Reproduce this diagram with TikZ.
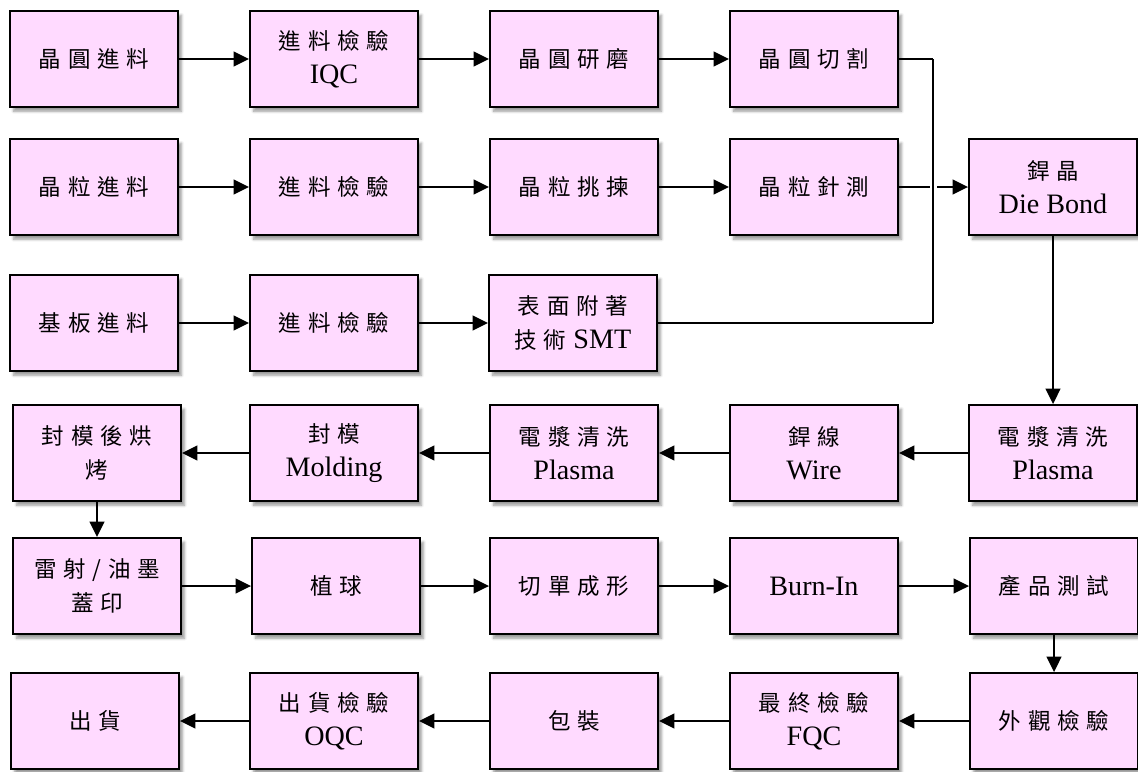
\documentclass[tikz,border=0pt]{standalone}
\usepackage{fontspec}
\setmainfont{Liberation Serif}
\newfontfamily\cjk[LetterSpace=30]{Noto Sans CJK TC}
\usepackage{xcolor}
\usepackage{tikz}
\usetikzlibrary{arrows.meta}
\usetikzlibrary{shadows.blur}

\definecolor{boxpink}{RGB}{255,218,255}
\newcommand{\zh}[1]{{\cjk\fontsize{16}{24}\selectfont #1}}

\begin{document}
\begin{tikzpicture}[
    x=0.025cm, y=-0.025cm,
    every node/.style={rectangle, draw, line width=1.3pt, fill=boxpink,
      minimum width=4.2cm, minimum height=2.4cm, inner sep=0pt, align=center,
      font=\fontsize{20}{24}\selectfont,
      blur shadow={shadow xshift=2.5pt, shadow yshift=-3pt, shadow blur steps=6}},
    flow/.style={line width=1.5pt, -{Triangle[length=11pt, width=10.5pt]}},
    feed/.style={line width=0.9pt},
  ]

  \useasboundingbox (0,0) rectangle (1138,771);

  % row 1
  \node (wafer)   at (94,  59)  {\zh{晶圓進料}};
  \node (iqc)     at (334, 59)  {\zh{進料檢驗}\\IQC};
  \node (grind)   at (574, 59)  {\zh{晶圓研磨}};
  \node (saw)     at (814, 59)  {\zh{晶圓切割}};

  % row 2
  \node (die)     at (94,  187) {\zh{晶粒進料}};
  \node (dieinsp) at (334, 187) {\zh{進料檢驗}};
  \node (sort)    at (574, 187) {\zh{晶粒挑揀}};
  \node (probe)   at (814, 187) {\zh{晶粒針測}};
  \node (bond)    at (1053,187) {\zh{銲晶}\\Die Bond};

  % row 3
  \node (sub)     at (94,  323) {\zh{基板進料}};
  \node (subinsp) at (334, 323) {\zh{進料檢驗}};
  \node (smt)     at (573, 323) {\zh{表面附著}\\\zh{技術} SMT};

  % row 4
  \node (plasmaA) at (1053,453) {\zh{電漿清洗}\\Plasma};
  \node (wire)    at (814, 453) {\zh{銲線}\\Wire};
  \node (plasmaB) at (574, 453) {\zh{電漿清洗}\\Plasma};
  \node (mold)    at (334, 453) {\zh{封模}\\Molding};
  \node (cure)    at (97,  453) {\zh{封模後烘}\\\zh{烤}};

  % row 5
  \node (laser)   at (97,  586) {\zh{雷射/油墨}\\\zh{蓋印}};
  \node (ball)    at (336, 586) {\zh{植球}};
  \node (singul)  at (574, 586) {\zh{切單成形}};
  \node (burnin)  at (814, 586) {Burn-In};
  \node (test)    at (1054,586) {\zh{產品測試}};

  % row 6
  \node (visual)  at (1054,721) {\zh{外觀檢驗}};
  \node (fqc)     at (814, 721) {\zh{最終檢驗}\\FQC};
  \node (pack)    at (574, 721) {\zh{包裝}};
  \node (oqc)     at (334, 721) {\zh{出貨檢驗}\\OQC};
  \node (ship)    at (95,  721) {\zh{出貨}};

  \coordinate (bustop) at (933, 59);
  \coordinate (busmid) at (933, 187);
  \coordinate (busbot) at (933, 323);

  \draw[flow] (wafer) -- (iqc);
  \draw[flow] (iqc) -- (grind);
  \draw[flow] (grind) -- (saw);
  \draw[flow] (die) -- (dieinsp);
  \draw[flow] (dieinsp) -- (sort);
  \draw[flow] (sort) -- (probe);
  \draw[flow] (sub) -- (subinsp);
  \draw[flow] (subinsp) -- (smt);

  \draw[feed] (saw) -- (bustop);
  \draw[feed, shorten >=2pt] (probe) -- (busmid);
  \draw[feed] (smt) -- (busbot);
  \draw[feed] (bustop) -- (busbot);
  \draw[flow, shorten <=3pt] (busmid) -- (bond);

  \draw[flow] (bond) -- (plasmaA);
  \draw[flow] (plasmaA) -- (wire);
  \draw[flow] (wire) -- (plasmaB);
  \draw[flow] (plasmaB) -- (mold);
  \draw[flow] (mold) -- (cure);
  \draw[flow] (cure) -- (laser);

  \draw[flow] (laser) -- (ball);
  \draw[flow] (ball) -- (singul);
  \draw[flow] (singul) -- (burnin);
  \draw[flow] (burnin) -- (test);
  \draw[flow] (test) -- (visual);

  \draw[flow] (visual) -- (fqc);
  \draw[flow] (fqc) -- (pack);
  \draw[flow] (pack) -- (oqc);
  \draw[flow] (oqc) -- (ship);

\end{tikzpicture}
\end{document}
